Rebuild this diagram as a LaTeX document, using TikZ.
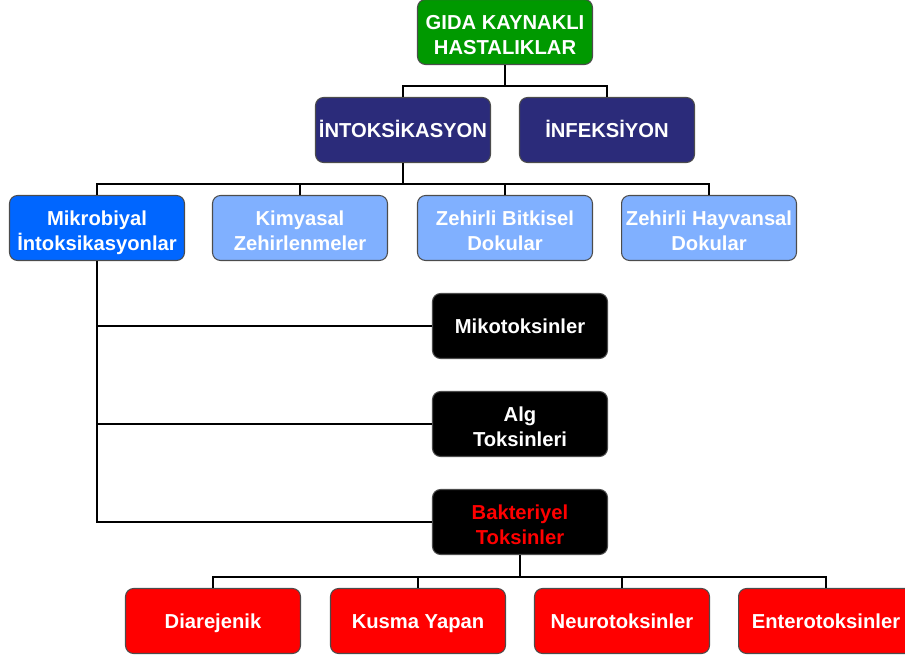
\documentclass[tikz,border=0pt]{standalone}
\usepackage{fontspec}
\setmainfont{Liberation Sans}
\definecolor{gidagreen}{RGB}{0,153,0}
\definecolor{navybox}{RGB}{43,43,122}
\definecolor{mikblue}{RGB}{0,102,255}
\definecolor{lightblue}{RGB}{128,176,255}
\definecolor{bakred}{RGB}{255,0,0}
\newcommand{\boxstrut}{\rule[-0.23em]{0pt}{1.18em}}
\begin{document}
\begin{tikzpicture}[x=0.02cm, y=-0.02cm,
  box/.style={draw=black!70, line width=0.6pt, rounded corners=0.16cm,
    minimum width=3.5cm, minimum height=1.3cm, inner sep=0pt, align=center,
    text=white, font=\fontsize{11.5}{14.2}\selectfont\bfseries,
    execute at begin node=\boxstrut, execute at end node=\boxstrut},
  twoline/.style={text height=28.5pt, text depth=2.65pt},
  redbox/.style={box, fill=bakred},
  conn/.style={line width=1.6pt, black}]
\useasboundingbox (0,0) rectangle (905,661);
\node[box, twoline, fill=gidagreen] (gida) at (505,32) {GIDA KAYNAKLI\\HASTALIKLAR};
\node[box, fill=navybox] (intox) at (403,130) {İNTOKSİKASYON};
\node[box, fill=navybox] (infek) at (607,130) {İNFEKSİYON};
\node[box, twoline, fill=mikblue] (mikrob) at (97,228) {Mikrobiyal\\İntoksikasyonlar};
\node[box, twoline, fill=lightblue] (kimya) at (300,228) {Kimyasal\\Zehirlenmeler};
\node[box, twoline, fill=lightblue] (bitki) at (505,228) {Zehirli Bitkisel\\Dokular};
\node[box, twoline, fill=lightblue] (hayvan) at (709,228) {Zehirli Hayvansal\\Dokular};
\node[box, fill=black] (miko) at (520,326) {Mikotoksinler};
\node[box, twoline, fill=black] (alg) at (520,424) {Alg\\Toksinleri};
\node[box, twoline, fill=black, text=bakred] (bakt) at (520,522) {Bakteriyel\\Toksinler};
\node[redbox] (diar) at (213,621) {Diarejenik};
\node[redbox] (kusma) at (418,621) {Kusma Yapan};
\node[redbox] (neuro) at (622,621) {Neurotoksinler};
\node[redbox] (entero) at (826,621) {Enterotoksinler};
\draw[conn] (gida.south) -- ++(0,21) -| (intox.north);
\draw[conn] (gida.south) -- ++(0,21) -| (infek.north);
\draw[conn] (intox.south) -- ++(0,21) -| (mikrob.north);
\draw[conn] (intox.south) -- ++(0,21) -| (kimya.north);
\draw[conn] (intox.south) -- ++(0,21) -| (bitki.north);
\draw[conn] (intox.south) -- ++(0,21) -| (hayvan.north);
\draw[conn] (mikrob.south) |- (miko.west);
\draw[conn] (mikrob.south) |- (alg.west);
\draw[conn] (mikrob.south) |- (bakt.west);
\draw[conn] (bakt.south) -- ++(0,22) -| (diar.north);
\draw[conn] (bakt.south) -- ++(0,22) -| (kusma.north);
\draw[conn] (bakt.south) -- ++(0,22) -| (neuro.north);
\draw[conn] (bakt.south) -- ++(0,22) -| (entero.north);
\end{tikzpicture}
\end{document}
